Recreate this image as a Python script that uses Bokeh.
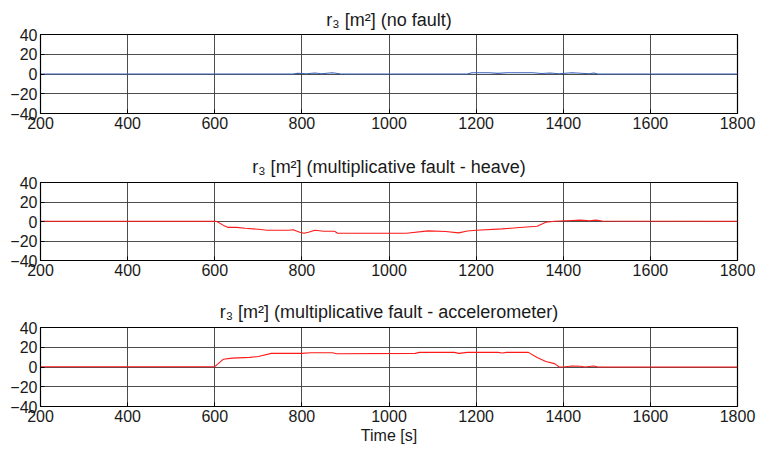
from bokeh.plotting import figure
from bokeh.layouts import column
from bokeh.models import FixedTicker
from bokeh.embed import file_html
from bokeh.resources import INLINE

# residual r3 over time, three scenarios (knot points of each trace)
t_nofault = [200, 780, 790, 810, 830, 845, 870, 890, 1180, 1190, 1230, 1250, 1270,
             1330, 1350, 1370, 1390, 1420, 1440, 1460, 1470, 1480, 1800]
r_nofault = [0, 0, 0.8, 0.2, 1.0, 0.3, 1.2, 0, 0, 1.2, 1.2, 0.6, 1.3,
             1.3, 0.5, 1.0, 0.3, 1.2, 0.8, 0.2, 1.0, 0, 0]

t_heave = [200, 600, 605, 620, 630, 650, 670, 700, 720, 770, 780, 795, 805, 815, 830,
           850, 875, 882, 1000, 1040, 1090, 1130, 1160, 1180, 1200, 1260, 1300, 1340,
           1360, 1380, 1420, 1440, 1460, 1475, 1490, 1800]
r_heave = [0.3, 0.3, 0, -4, -6, -6, -7, -8, -9, -9, -8.5, -11, -12, -11, -9,
           -10, -10, -12, -12, -12, -9.6, -10.3, -11.7, -9.7, -9, -7.6, -6.2, -4.8,
           -0.7, 0.3, 1.0, 1.4, 0.7, 1.4, 0.5, 0.3]

t_accel = [200, 600, 620, 640, 680, 700, 730, 800, 820, 870, 880, 1060, 1070, 1150,
           1160, 1180, 1250, 1260, 1270, 1320, 1340, 1360, 1380, 1390, 1400, 1420,
           1440, 1450, 1470, 1480, 1800]
r_accel = [0.3, 0.3, 7.9, 9, 9.7, 10.7, 13.8, 13.8, 14.5, 14.5, 13.4, 13.8, 14.8, 14.8,
           13.8, 14.8, 14.8, 14.1, 14.8, 14.8, 9.7, 5.5, 3.4, 0.3, 0, 1.0,
           0.7, 0, 1.0, 0, 0]

titles = ["r\u2083 [m\u00b2] (no fault)",
          "r\u2083 [m\u00b2] (multiplicative fault - heave)",
          "r\u2083 [m\u00b2] (multiplicative fault - accelerometer)"]
x_ticks = [200, 400, 600, 800, 1000, 1200, 1400, 1600, 1800]
y_ticks = [-40, -20, 0, 20, 40]

FONT = "Liberation Sans"
TXT = "#1a1a1a"


def panel(title, t, r, color, height, top, bottom, standoff, xlabel=None):
    p = figure(width=759, height=height, x_range=(200, 1800), y_range=(-40, 40),
               output_backend="svg", toolbar_location=None,
               min_border_left=40, min_border_right=22,
               min_border_top=top, min_border_bottom=bottom)
    p.title.text = title
    p.title.align = "center"
    p.title.text_font = FONT
    p.title.text_font_size = "18px"
    p.title.text_font_style = "normal"
    p.title.text_color = TXT
    p.title.standoff = standoff
    p.line(t, r, line_color=color, line_width=1.1)
    p.outline_line_color = "black"
    p.outline_line_width = 1.2
    p.outline_line_alpha = 1
    for ax in (p.xaxis, p.yaxis):
        ax.major_label_text_font = FONT
        ax.major_label_text_font_size = "16px"
        ax.major_label_text_color = TXT
        ax.major_tick_in = 4
        ax.major_tick_out = 0
        ax.minor_tick_in = 0
        ax.minor_tick_out = 0
        ax.axis_line_color = "black"
        ax.major_tick_line_color = "black"
    p.xaxis.ticker = FixedTicker(ticks=x_ticks)
    p.yaxis.ticker = FixedTicker(ticks=y_ticks)
    p.xaxis.major_label_standoff = 3
    p.yaxis.major_label_standoff = 3
    if xlabel:
        p.xaxis.axis_label = xlabel
        p.xaxis.axis_label_text_font = FONT
        p.xaxis.axis_label_text_font_size = "16px"
        p.xaxis.axis_label_text_font_style = "normal"
        p.xaxis.axis_label_text_color = TXT
        p.xaxis.axis_label_standoff = 2
    for g in (p.xgrid, p.ygrid):
        g.grid_line_color = "#3a3a3a"
        g.grid_line_width = 1
        g.grid_line_alpha = 0.9
    p.background_fill_color = "white"
    p.border_fill_color = "white"
    return p


p1 = panel(titles[0], t_nofault, r_nofault, "#3a62b8", 146, 34, 33, 9)
p2 = panel(titles[1], t_heave, r_heave, "#ff1a1a", 145, 36, 31, 12)
p3 = panel(titles[2], t_accel, r_accel, "#ff1a1a", 163, 36, 48, 12, xlabel="Time [s]")

layout = column(p1, p2, p3, spacing=0)
open("out.html", "w").write(file_html(layout, INLINE))
